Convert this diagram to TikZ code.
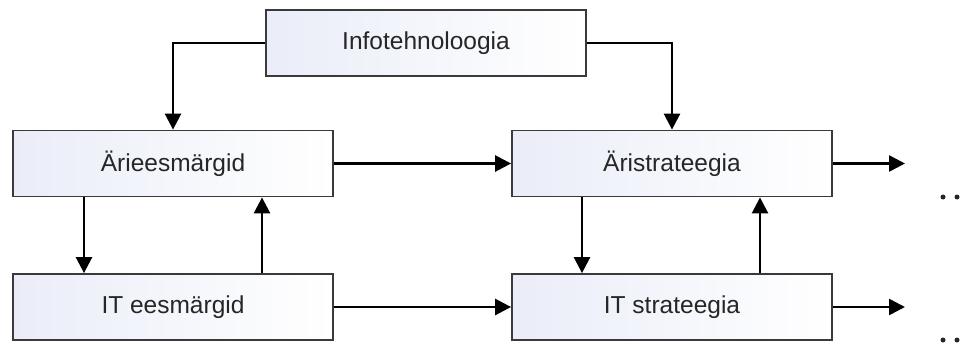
\documentclass[tikz,border=0pt]{standalone}
\usepackage{fontspec}
\setmainfont{Liberation Sans}
\usetikzlibrary{arrows.meta}
\definecolor{boxline}{HTML}{3A3A3A}
\definecolor{boxtint}{HTML}{EAEDF8}
\tikzset{
  block/.style={draw=boxline, line width=1.8pt, minimum width=320pt, minimum height=66pt,
    inner sep=0pt, left color=boxtint, right color=white, shading angle=90,
    font=\fontsize{24.5}{28}\selectfont, text=black!85},
  flow/.style={line width=2.6pt, -{Triangle[length=16pt,width=16pt]}},
  dotmark/.style={fill=black!85}
}
\begin{document}
\begin{tikzpicture}[x=1pt,y=-1pt]
  \useasboundingbox (0,0) rectangle (967,343);
  % boxes
  \node[block] (info)   at (426,43)    {Infotehnoloogia};
  \node[block] (arie)   at (173,163.5) {Ärieesmärgid};
  \node[block] (aristr) at (672,163.5) {Äristrateegia};
  \node[block] (itees)  at (173,307)   {IT eesmärgid};
  \node[block] (itstr)  at (672,307)   {IT strateegia};
  % free ends of the outgoing arrows
  \coordinate (out1) at (905,163.5);
  \coordinate (out2) at (905,307);
  % connectors
  \draw[flow] (info.west) -| (arie.north);
  \draw[flow] (info.east) -| (aristr.north);
  \draw[flow] (arie.east) -- (aristr.west);
  \draw[flow] (itees.east) -- (itstr.west);
  \draw[flow] ([xshift=-89pt]arie.south) -- ([xshift=-89pt]itees.north);
  \draw[flow] ([xshift=89pt]itees.north) -- ([xshift=89pt]arie.south);
  \draw[flow] ([xshift=-90pt]aristr.south) -- ([xshift=-90pt]itstr.north);
  \draw[flow] ([xshift=88pt]itstr.north) -- ([xshift=88pt]aristr.south);
  \draw[flow] (aristr.east) -- (out1);
  \draw[flow] (itstr.east) -- (out2);
  % continuation dots
  \fill[dotmark] (943,197) circle (2.5pt) (957,197) circle (2.5pt);
  \fill[dotmark] (943,340) circle (2.5pt) (957,340) circle (2.5pt);
\end{tikzpicture}
\end{document}
